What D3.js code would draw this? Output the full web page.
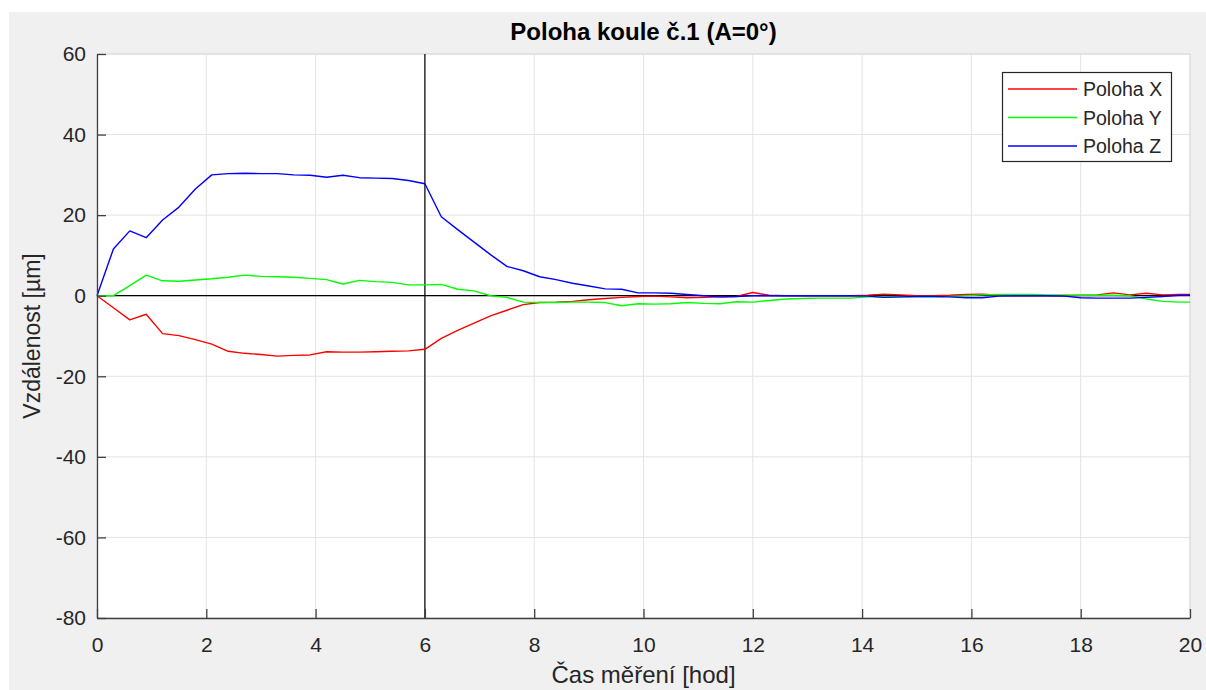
<!DOCTYPE html>
<html><head><meta charset="utf-8">
<script src="https://cdn.jsdelivr.net/npm/d3@7"></script>
<style>body{margin:0;background:#fff}svg{display:block}text{font-family:"Liberation Sans",Arial,sans-serif}</style>
</head><body><svg id="c" width="1206" height="690"></svg>
<script>
const times = [0,0.3,0.6,0.9,1.2,1.5,1.8,2.1,2.4,2.7,3.0,3.3,3.6,3.9,4.2,4.5,4.8,5.1,5.4,5.7,6.0,6.3,6.6,6.9,7.2,7.5,7.8,8.1,8.4,8.7,9.0,9.3,9.6,9.9,10.2,10.5,10.8,11.1,11.4,11.7,12.0,12.3,12.6,12.9,13.2,13.5,13.8,14.1,14.4,14.7,15.0,15.3,15.6,15.9,16.2,16.5,16.8,17.1,17.4,17.7,18.0,18.3,18.6,18.9,19.2,19.5,19.8,20.0];
const polohaX = [0,-3,-6.0,-4.6,-9.4,-9.9,-10.9,-12.0,-13.8,-14.3,-14.6,-15.0,-14.8,-14.7,-13.9,-14.0,-14.0,-13.9,-13.8,-13.7,-13.3,-10.6,-8.6,-6.8,-5.0,-3.6,-2.2,-1.7,-1.6,-1.4,-1.0,-0.7,-0.4,-0.2,-0.1,-0.3,-0.5,-0.4,-0.3,-0.2,0.8,0.1,0,0,0,0,0,0.1,0.4,0.2,0,0,0.1,0.3,0.4,0.1,0,0,0,0,0.1,0.2,0.7,0.2,0.6,0.2,0.3,0.3];
const polohaY = [0,0,2.5,5.1,3.7,3.6,3.9,4.2,4.6,5.1,4.8,4.7,4.6,4.3,4.0,2.9,3.8,3.5,3.3,2.7,2.7,2.8,1.6,1.2,0.0,-0.4,-1.6,-1.7,-1.7,-1.6,-1.6,-1.7,-2.5,-2.0,-2.1,-2.0,-1.7,-1.9,-2.0,-1.5,-1.6,-1.2,-0.8,-0.7,-0.6,-0.6,-0.6,-0.3,-0.3,-0.3,-0.3,-0.3,-0.2,0,0.2,0.3,0.3,0.3,0.2,0.2,0.1,0.1,0.1,0,-0.8,-1.4,-1.6,-1.6];
const polohaZ = [0,11.6,16.1,14.4,18.8,22.0,26.5,30.0,30.3,30.4,30.3,30.3,30.0,29.9,29.4,29.9,29.3,29.2,29.1,28.6,27.8,19.6,16.4,13.3,10.2,7.3,6.2,4.7,4.0,3.1,2.4,1.7,1.6,0.7,0.7,0.6,0.3,0.0,-0.3,-0.2,0.0,0,0,0,0,0,0,-0.1,-0.4,-0.3,-0.2,-0.2,-0.3,-0.5,-0.5,-0.1,0,0,0,-0.1,-0.5,-0.6,-0.6,-0.6,-0.4,-0.2,0.1,0.1];
const seriesNames = ["Poloha X","Poloha Y","Poloha Z"];
const seriesColors = ["#ff0000","#00ff00","#0000ff"];
const xTicks = [0,2,4,6,8,10,12,14,16,18,20];
const yTicks = [-80,-60,-40,-20,0,20,40,60];
const titleText = "Poloha koule č.1 (A=0°)";
const xLabel = "Čas měření [hod]";
const yLabel = "Vzdálenost [µm]";
const markerTime = 6;

const svg = d3.select("#c");
const L=97,R=1190,T=54,B=618;
svg.append("rect").attr("x",9).attr("y",12).attr("width",1197).attr("height",678).attr("fill","#f0f0f0");
svg.append("rect").attr("x",L).attr("y",T).attr("width",R-L).attr("height",B-T).attr("fill","#fff");
const x = d3.scaleLinear().domain([0,20]).range([L,R]);
const y = d3.scaleLinear().domain([-80,60]).range([B,T]);
const g = svg.append("g");
g.selectAll(".gx").data(xTicks).join("line").attr("x1",d=>x(d)).attr("x2",d=>x(d)).attr("y1",T).attr("y2",B).attr("stroke","#e3e3e3").attr("stroke-width",1);
g.selectAll(".gy").data(yTicks).join("line").attr("y1",d=>y(d)).attr("y2",d=>y(d)).attr("x1",L).attr("x2",R).attr("stroke","#e3e3e3").attr("stroke-width",1);
g.append("line").attr("x1",L).attr("x2",R).attr("y1",T).attr("y2",T).attr("stroke","#d9d9d9");
g.append("line").attr("x1",R).attr("x2",R).attr("y1",T).attr("y2",B).attr("stroke","#d9d9d9");
g.append("line").attr("x1",L).attr("x2",R).attr("y1",y(0)).attr("y2",y(0)).attr("stroke","#000").attr("stroke-width",1.2);
g.append("line").attr("x1",x(markerTime)).attr("x2",x(markerTime)).attr("y1",T).attr("y2",B).attr("stroke","#000").attr("stroke-width",1.2);
const data=[polohaX,polohaY,polohaZ];
const line = d3.line().x((d,i)=>x(times[i])).y(d=>y(d));
data.forEach((s,k)=>{
  svg.append("path").datum(s).attr("d",line).attr("fill","none").attr("stroke",seriesColors[k]).attr("stroke-width",1.4).attr("stroke-linejoin","round");
});
const ax = svg.append("g").attr("transform",`translate(0,${B})`).call(d3.axisBottom(x).tickValues(xTicks).tickSizeInner(-9).tickSizeOuter(0).tickPadding(19).tickFormat(d3.format("d")));
const ay = svg.append("g").attr("transform",`translate(${L},0)`).call(d3.axisLeft(y).tickValues(yTicks).tickSizeInner(-9).tickSizeOuter(0).tickPadding(11).tickFormat(d3.format("d")));
[ax,ay].forEach(a=>{
  a.select(".domain").attr("stroke","#404040").attr("stroke-width",1.3);
  a.selectAll(".tick line").attr("stroke","#404040").attr("stroke-width",1.3);
  a.selectAll(".tick text").attr("font-size",21).attr("fill","#262626").style("font-family","Liberation Sans, Arial, sans-serif");
});
ay.selectAll(".tick text").text(d=>d<0?"-"+Math.abs(d):d);
svg.append("text").attr("x",(L+R)/2).attr("y",40).attr("text-anchor","middle").attr("font-size",24).attr("font-weight","bold").attr("fill","#000").text(titleText);
svg.append("text").attr("x",(L+R)/2).attr("y",683).attr("text-anchor","middle").attr("font-size",24).attr("fill","#262626").text(xLabel);
svg.append("text").attr("transform",`translate(40,${(T+B)/2}) rotate(-90)`).attr("text-anchor","middle").attr("font-size",23).attr("fill","#262626").text(yLabel);
const lg = svg.append("g");
lg.append("rect").attr("x",1002.5).attr("y",72.5).attr("width",169).attr("height",89).attr("fill","#fff").attr("stroke","#262626").attr("stroke-width",1.2);
seriesNames.forEach((n,k)=>{
  const yy = 89 + k*28.5;
  lg.append("line").attr("x1",1008).attr("x2",1077).attr("y1",yy).attr("y2",yy).attr("stroke",seriesColors[k]).attr("stroke-width",1.4);
  lg.append("text").attr("x",1083).attr("y",yy+7).attr("font-size",19.5).attr("fill","#262626").text(n);
});
</script></body></html>
